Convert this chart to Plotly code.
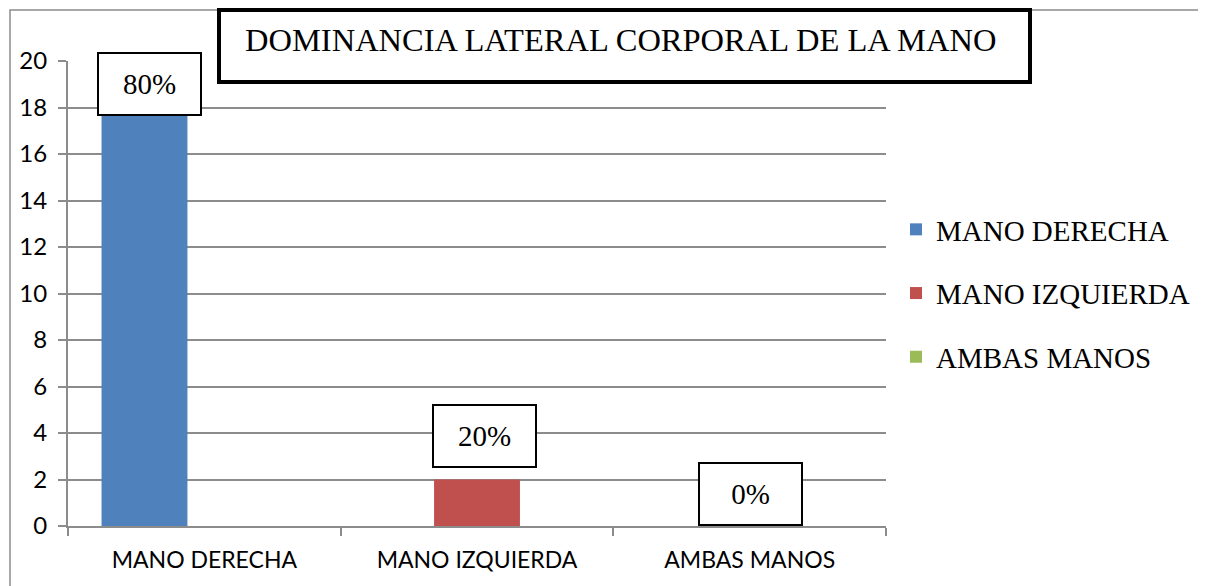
import plotly.graph_objects as go

categories = ["MANO DERECHA", "MANO IZQUIERDA", "AMBAS MANOS"]
series_names = ["MANO DERECHA", "MANO IZQUIERDA", "AMBAS MANOS"]
derecha = [18, 0, 0]
izquierda = [0, 2, 0]
ambas = [0, 0, 0]
colors = ["#4F81BD", "#C0504D", "#9BBB59"]
pct_labels = ["80%", "20%", "0%"]
label_y = [19.0, 3.87, 1.38]
y_ticks = list(range(0, 21, 2))
title_text = "DOMINANCIA LATERAL CORPORAL DE LA MANO"

W, H = 1206, 586
BODY = 8  # default page body margin
L, R, T, B = 68, 320, 61, 60
pw, ph = W - L - R, H - T - B


def px(x):
    return (x - L) / pw


def py(y):
    return (H - B - y) / ph


fig = go.Figure()
bar_w = 0.315
offsets = [-0.377, -0.1575, 0.0625]
for i, (name, vals) in enumerate(zip(series_names, [derecha, izquierda, ambas])):
    fig.add_trace(go.Bar(
        x=categories, y=vals, name=name,
        marker=dict(color=colors[i], line=dict(width=0)),
        width=bar_w, offset=offsets[i],
        legendgroup=name,
    ))

label_shift = [-55, 7, 1]
for i, t in enumerate(pct_labels):
    fig.add_annotation(
        x=categories[i], y=label_y[i], xref="x", yref="y",
        text=t, showarrow=False, xshift=label_shift[i],
        font=dict(family="Liberation Serif", size=29, color="black"),
        bgcolor="white", bordercolor="black", borderwidth=2, borderpad=0,
        width=101, height=60, valign="middle",
    )

# outer chart border
fig.add_shape(type="rect", xref="paper", yref="paper",
              x0=px(10), x1=px(1260), y0=py(640), y1=py(10),
              line=dict(color="#8c8c8c", width=1.5), layer="below")
# title box
fig.add_shape(type="rect", xref="paper", yref="paper",
              x0=px(219), x1=px(1030), y0=py(82), y1=py(10),
              line=dict(color="black", width=4), fillcolor="white", layer="above")
fig.add_annotation(
    x=px(243), y=py(40), xref="paper", yref="paper",
    xanchor="left", yanchor="middle", showarrow=False,
    text=title_text,
    font=dict(family="Liberation Serif", size=32.5, color="black"),
)

fig.update_layout(
    width=W, height=H,
    margin=dict(l=L - BODY, r=R + BODY, t=T - BODY, b=B + BODY),
    paper_bgcolor="white", plot_bgcolor="white",
    barmode="overlay",
    showlegend=True,
    legend=dict(
        x=px(896), y=py(204), xanchor="left", yanchor="top",
        font=dict(family="Liberation Serif", size=29, color="black"),
        tracegroupgap=23, traceorder="grouped",
        bgcolor="rgba(0,0,0,0)",
    ),
    xaxis=dict(
        type="category", showgrid=False,
        showline=True, linecolor="#8c8c8c", linewidth=2,
        ticks="outside", tickson="boundaries", ticklen=8, tickcolor="#8c8c8c", tickwidth=2,
        tickfont=dict(family="Lato", size=23, color="black"),
        ticklabelstandoff=12,
    ),
    yaxis=dict(
        range=[0, 20], tickvals=y_ticks,
        showgrid=True, gridcolor="#8c8c8c", gridwidth=2,
        showline=True, linecolor="#8c8c8c", linewidth=2,
        ticks="outside", ticklen=8, tickcolor="#8c8c8c", tickwidth=2,
        tickfont=dict(family="Lato", size=24, color="black"),
        ticklabelstandoff=6, zeroline=False,
    ),
)

fig.write_html("out.html")
